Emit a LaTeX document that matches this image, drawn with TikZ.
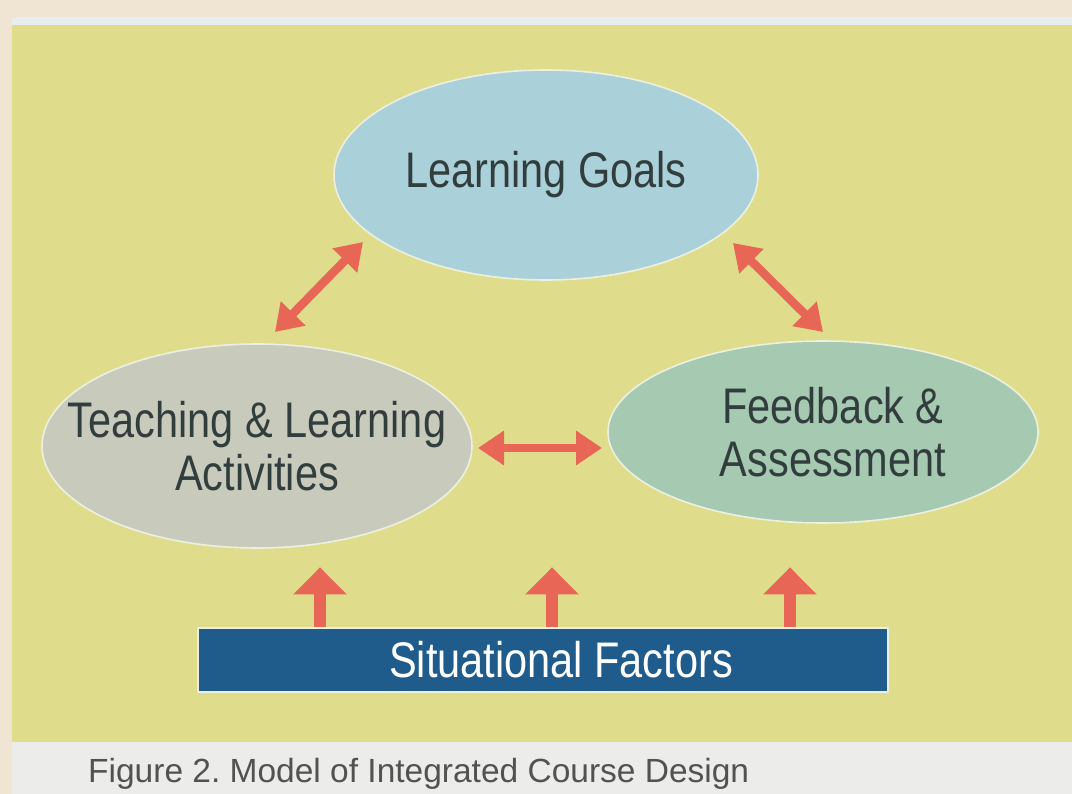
\documentclass[tikz,border=0pt]{standalone}
\usepackage{fontspec}
\setmainfont{Liberation Sans}
\newfontfamily\condfont{Liberation Sans}[FakeStretch=0.83]
\usetikzlibrary{shapes.geometric,arrows.meta,calc}
\frenchspacing

\definecolor{pagebeige}{RGB}{240,228,210}
\definecolor{panelyellow}{RGB}{223,221,140}
\definecolor{stripwhite}{RGB}{232,236,236}
\definecolor{capgray}{RGB}{236,236,234}
\definecolor{goalblue}{RGB}{170,208,218}
\definecolor{teachgray}{RGB}{200,203,188}
\definecolor{feedgreen}{RGB}{166,201,178}
\definecolor{arrowred}{RGB}{232,102,86}
\definecolor{sitblue}{RGB}{31,92,140}
\definecolor{inkdark}{RGB}{50,62,62}
\definecolor{rimwhite}{RGB}{236,240,226}

\begin{document}
\begin{tikzpicture}[x=1pt,y=-1pt,line join=bevel,
  blob/.style={ellipse,draw=rimwhite,line width=1.6pt,inner sep=0pt},
  txt/.style={font=\condfont\fontsize{50}{53}\selectfont,text=inkdark,align=center},
  dbl/.style={draw=arrowred,line width=8.5pt,{Triangle[width=33pt,length=26pt]}-{Triangle[width=33pt,length=26pt]}},
  push/.style={draw=arrowred,line width=12pt,-{Triangle[width=52pt,length=27pt]}},
]
%%
  \useasboundingbox (0,0) rectangle (1072,794);
  \fill[pagebeige] (0,0) rectangle (1072,794);
  \fill[stripwhite] (12,17) rectangle (1072,25);
  \fill[panelyellow] (12,25) rectangle (1072,742);
  \fill[capgray] (12,742) rectangle (1072,794);
%%
  \node (node_goals) at (546,175) [blob,fill=goalblue,minimum width=424pt,minimum height=210pt,
    label={[txt]center:Learning Goals}] {};
  \node (node_teach) at (257,446) [blob,fill=teachgray,minimum width=430pt,minimum height=204pt,
    label={[txt]center:Teaching \& Learning\\Activities}] {};
  \node (node_feed) at (823,432) [blob,fill=feedgreen,minimum width=430pt,minimum height=182pt,
    label={[txt,xshift=10pt]center:Feedback \&\\Assessment}] {};
  \node (node_sit) at (543,660) [draw=rimwhite,line width=1.2pt,fill=sitblue,minimum width=690pt,minimum height=64pt,
    font=\condfont\fontsize{50}{53}\selectfont,text=white] {\hspace*{36pt}Situational Factors};
  \node (node_cap) at (88,774) [anchor=west,inner sep=0pt,text=black!68,
    font=\fontsize{33.5}{36}\selectfont] {Figure 2. Model of Integrated Course Design};

  \draw [dbl] ($(node_teach)+(18,-114)$) -- ($(node_goals)+(-183,67)$);
  \draw [dbl] ($(node_goals)+(187,68)$) -- ($(node_feed)+(0,-100)$);
  \draw [dbl] ($(node_teach)+(221,2)$) -- ($(node_feed)+(-221,16)$);
  \draw [push] ($(node_sit.north)+(-223,0)$) -- ++(0,-60);
  \draw [push] ($(node_sit.north)+(9,0)$) -- ++(0,-60);
  \draw [push] ($(node_sit.north)+(247,0)$) -- ++(0,-60);
%
\end{tikzpicture}
\end{document}
